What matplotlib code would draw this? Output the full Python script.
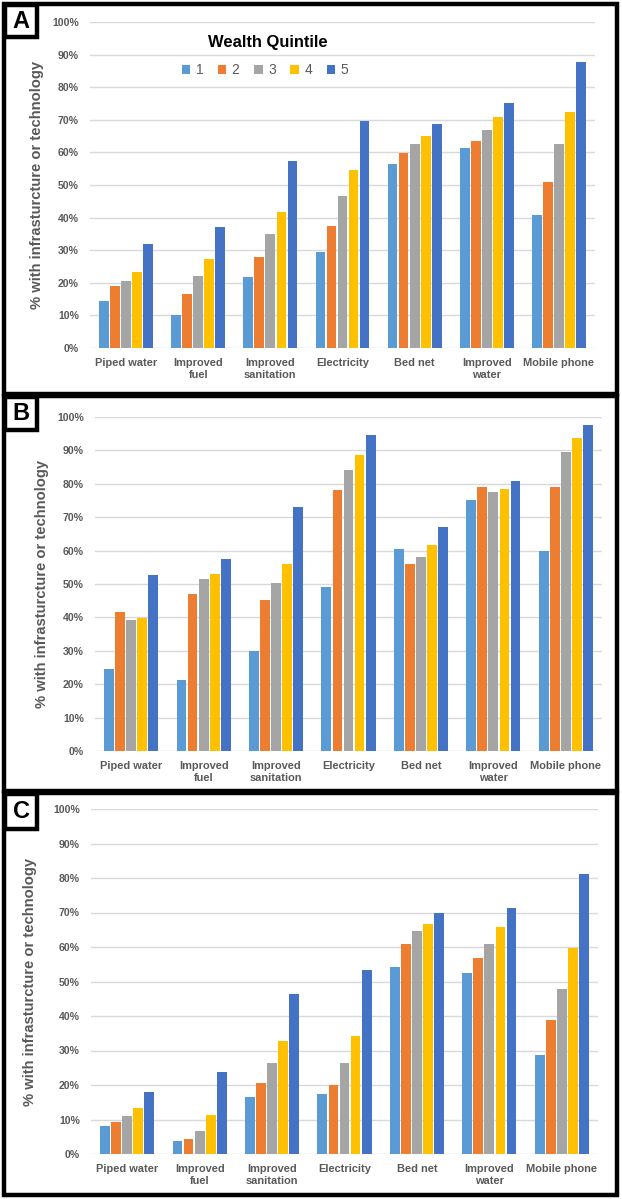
import numpy as np
import matplotlib
matplotlib.use('Agg')
import matplotlib.pyplot as plt
from matplotlib.patches import Rectangle

plt.rcParams['font.family'] = ['Liberation Sans', 'DejaVu Sans']

categories = ['Piped water', 'Improved\nfuel', 'Improved\nsanitation', 'Electricity',
              'Bed net', 'Improved\nwater', 'Mobile phone']
quintiles = ['1', '2', '3', '4', '5']
colors = ['#5B9BD5', '#ED7D31', '#A5A5A5', '#FFC000', '#4472C4']
yticks = [0, 10, 20, 30, 40, 50, 60, 70, 80, 90, 100]

# one row per wealth quintile, one value per category (percent)
panel_a = [
    [14.4, 10.2, 21.8, 29.6, 56.3, 61.3, 40.8],
    [19.0, 16.7, 28.0, 37.5, 59.7, 63.4, 50.8],
    [20.7, 22.1, 34.9, 46.5, 62.5, 66.8, 62.5],
    [23.2, 27.2, 41.6, 54.5, 65.0, 70.8, 72.4],
    [32.0, 37.0, 57.3, 69.5, 68.7, 75.3, 87.6],
]
panel_b = [
    [24.6, 21.2, 30.0, 49.2, 60.6, 75.2, 60.0],
    [41.7, 47.0, 45.3, 78.0, 56.1, 79.1, 79.1],
    [39.1, 51.4, 50.2, 84.1, 58.1, 77.4, 89.4],
    [39.8, 53.1, 55.9, 88.6, 61.8, 78.5, 93.6],
    [52.8, 57.5, 73.1, 94.7, 67.0, 80.8, 97.5],
]
panel_c = [
    [8.2, 3.7, 16.6, 17.3, 54.3, 52.6, 28.7],
    [9.3, 4.4, 20.7, 20.0, 60.9, 56.8, 38.7],
    [11.0, 6.8, 26.5, 26.3, 64.6, 60.9, 47.8],
    [13.2, 11.3, 32.8, 34.3, 66.8, 65.7, 59.8],
    [17.9, 23.7, 46.5, 53.4, 69.9, 71.4, 81.2],
]

W, H = 622, 1199
fig = plt.figure(figsize=(W / 100, H / 100), dpi=100)

grey_txt = '#595959'


def fx(x):
    return x / W


def fy(y):
    return 1 - y / H


def frame(x0, y0, x1, y1, lw=3.2):
    '''rectangle given in top-origin pixel coords'''
    fig.add_artist(Rectangle((fx(x0), fy(y1)), fx(x1) - fx(x0), fy(y0) - fy(y1),
                             transform=fig.transFigure, fill=False,
                             edgecolor='black', linewidth=lw, zorder=10))


def draw_panel(values, box, letter, letter_box, ylab_x):
    left, top, right, bottom = box
    ax = fig.add_axes([fx(left), fy(bottom), fx(right) - fx(left), fy(top) - fy(bottom)])
    x = np.arange(len(categories))
    step, width = 0.153, 0.135
    for i, (q, vals) in enumerate(zip(quintiles, values)):
        ax.bar(x + (i - 2) * step, vals, width=width, color=colors[i], label=q, zorder=3)
    ax.set_xlim(-0.5, len(categories) - 0.5)
    ax.set_ylim(0, 100)
    ax.set_yticks(yticks)
    ax.set_yticklabels([f'{t}%' for t in yticks])
    ax.set_xticks(x)
    ax.set_xticklabels(categories, linespacing=1.25)
    ax.grid(axis='y', color='#D9D9D9', linewidth=1.0, zorder=0)
    for s in ax.spines.values():
        s.set_visible(False)
    ax.tick_params(axis='both', length=0, colors=grey_txt)
    ax.tick_params(axis='y', pad=8, labelsize=7.6)
    ax.tick_params(axis='x', pad=7, labelsize=7.9)
    for lab in ax.get_xticklabels() + ax.get_yticklabels():
        lab.set_fontweight('bold')
    fig.text(fx(ylab_x), fy((top + bottom) / 2), '% with infrasturcture or technology',
             rotation=90, ha='center', va='center', color=grey_txt,
             fontsize=10.6, fontweight='bold')
    # panel letter in a small box
    lx0, ly0, lx1, ly1 = letter_box
    frame(lx0, ly0, lx1, ly1)
    fig.text(fx((lx0 + lx1) / 2), fy((ly0 + ly1) / 2), letter, ha='center', va='center',
             fontsize=17, fontweight='bold', color='black')
    return ax


ax_a = draw_panel(panel_a, (90, 22, 595, 348), 'A', (5, 5, 37, 37), 37)
ax_b = draw_panel(panel_b, (95, 417, 602, 751), 'B', (5, 397, 37, 430), 42)
ax_c = draw_panel(panel_c, (91, 809, 598, 1154), 'C', (5, 794, 37, 829), 30)

# outer borders of the three panels
frame(4, 4, 617, 394)
frame(4, 396, 617, 791)
frame(4, 793, 617, 1195)

# legend for panel A
fig.text(fx(268), fy(43), 'Wealth Quintile', ha='center', va='center',
         fontsize=11.9, fontweight='bold', color='black')
handles, labels = ax_a.get_legend_handles_labels()
leg = fig.legend(handles, labels, loc='center', bbox_to_anchor=(fx(265), fy(70)),
                 ncol=5, frameon=False, fontsize=10, handlelength=0.6, handleheight=0.6,
                 handletextpad=0.4, columnspacing=1.05, labelcolor=grey_txt)

fig.savefig('out.png', dpi=100)
